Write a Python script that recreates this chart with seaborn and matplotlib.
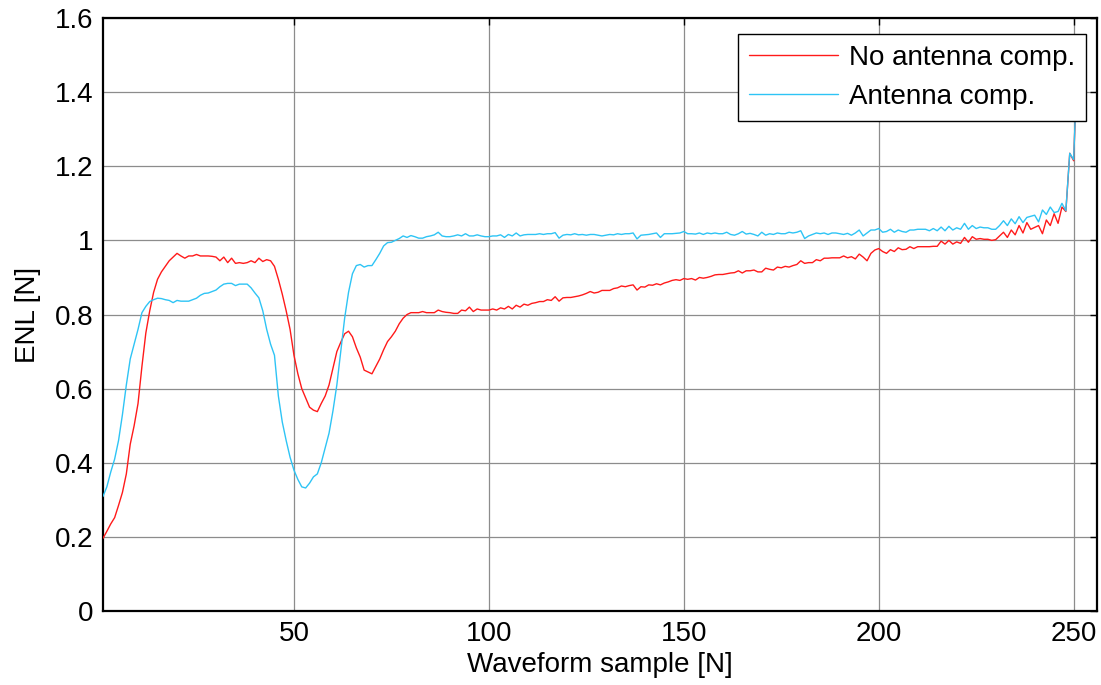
import numpy as np
import pandas as pd
import seaborn as sns
import matplotlib.pyplot as plt
from matplotlib.ticker import FormatStrFormatter

# ENL per waveform sample (samples 1..251)
no_comp = [
    0.196, 0.215, 0.235, 0.252, 0.285, 0.32, 0.37, 0.45, 0.50, 0.56,
    0.66, 0.75, 0.81, 0.86, 0.895, 0.915, 0.93, 0.945, 0.955, 0.965,
    0.958, 0.952, 0.958, 0.958, 0.962, 0.958, 0.958, 0.958, 0.957, 0.955,
    0.945, 0.955, 0.94, 0.952, 0.938, 0.94, 0.938, 0.94, 0.945, 0.94,
    0.952, 0.943, 0.948, 0.945, 0.93, 0.895, 0.855, 0.81, 0.76, 0.69,
    0.64, 0.60, 0.575, 0.55, 0.542, 0.538, 0.56, 0.58, 0.61, 0.655,
    0.70, 0.725, 0.748, 0.755, 0.74, 0.71, 0.685, 0.65, 0.645, 0.64,
    0.66, 0.68, 0.705, 0.727, 0.74, 0.755, 0.775, 0.79, 0.80, 0.805,
    0.805, 0.805, 0.808, 0.805, 0.805, 0.805, 0.812, 0.808, 0.806, 0.805,
    0.803, 0.803, 0.812, 0.810, 0.820, 0.808, 0.815, 0.812, 0.812, 0.812,
    0.815, 0.812, 0.818, 0.815, 0.822, 0.815, 0.825, 0.820, 0.828, 0.825,
    0.830, 0.832, 0.835, 0.835, 0.840, 0.838, 0.848, 0.836, 0.845, 0.846,
    0.846, 0.848, 0.850, 0.853, 0.857, 0.862, 0.858, 0.860, 0.865, 0.865,
    0.865, 0.870, 0.872, 0.877, 0.875, 0.878, 0.880, 0.866, 0.875, 0.874,
    0.880, 0.879, 0.883, 0.880, 0.885, 0.888, 0.892, 0.894, 0.892, 0.897,
    0.895, 0.897, 0.893, 0.900, 0.898, 0.900, 0.903, 0.907, 0.908, 0.908,
    0.910, 0.912, 0.913, 0.918, 0.912, 0.918, 0.918, 0.920, 0.915, 0.915,
    0.925, 0.922, 0.920, 0.928, 0.926, 0.930, 0.928, 0.932, 0.935, 0.945,
    0.938, 0.940, 0.940, 0.948, 0.945, 0.952, 0.952, 0.953, 0.953, 0.953,
    0.958, 0.953, 0.956, 0.950, 0.963, 0.955, 0.945, 0.965, 0.974, 0.978,
    0.970, 0.965, 0.975, 0.970, 0.980, 0.975, 0.976, 0.983, 0.978, 0.983,
    0.983, 0.983, 0.983, 0.984, 0.984, 0.998, 0.990, 1.000, 0.990, 0.996,
    0.992, 1.008, 0.995, 1.010, 1.003, 1.005, 1.003, 1.003, 1.000, 1.002,
    1.012, 1.022, 1.008, 1.028, 1.015, 1.040, 1.020, 1.048, 1.030, 1.035,
    1.040, 1.018, 1.055, 1.040, 1.072, 1.046, 1.090, 1.078, 1.235, 1.215,
    1.50,
]

ant_comp = [
    0.309, 0.335, 0.375, 0.41, 0.46, 0.53, 0.61, 0.68, 0.72, 0.76,
    0.805, 0.822, 0.835, 0.84, 0.844, 0.843, 0.84, 0.838, 0.832, 0.838,
    0.836, 0.836, 0.836, 0.84, 0.844, 0.852, 0.857, 0.858, 0.862, 0.866,
    0.875, 0.882, 0.884, 0.884, 0.878, 0.882, 0.882, 0.882, 0.872, 0.858,
    0.845, 0.81, 0.76, 0.72, 0.69, 0.58, 0.51, 0.46, 0.415, 0.38,
    0.355, 0.335, 0.332, 0.345, 0.362, 0.37, 0.40, 0.44, 0.48, 0.54,
    0.61, 0.70, 0.79, 0.86, 0.91, 0.932, 0.935, 0.928, 0.932, 0.932,
    0.948, 0.965, 0.985, 0.994, 0.995, 1.000, 1.005, 1.012, 1.008, 1.013,
    1.010, 1.006, 1.006, 1.010, 1.012, 1.015, 1.022, 1.012, 1.010, 1.010,
    1.012, 1.015, 1.012, 1.018, 1.012, 1.012, 1.015, 1.012, 1.010, 1.010,
    1.012, 1.012, 1.015, 1.008, 1.016, 1.012, 1.020, 1.012, 1.015, 1.016,
    1.016, 1.016, 1.018, 1.016, 1.018, 1.018, 1.021, 1.006, 1.014, 1.016,
    1.015, 1.018, 1.015, 1.016, 1.014, 1.016, 1.016, 1.014, 1.012, 1.014,
    1.016, 1.015, 1.018, 1.016, 1.018, 1.018, 1.020, 1.004, 1.014, 1.015,
    1.016, 1.018, 1.020, 1.008, 1.018, 1.018, 1.018, 1.019, 1.020, 1.024,
    1.018, 1.018, 1.017, 1.020, 1.016, 1.020, 1.018, 1.020, 1.018, 1.018,
    1.022, 1.016, 1.014, 1.018, 1.024, 1.017, 1.019, 1.016, 1.012, 1.022,
    1.014, 1.018, 1.016, 1.020, 1.018, 1.018, 1.022, 1.020, 1.022, 1.026,
    1.005, 1.012, 1.016, 1.020, 1.018, 1.020, 1.016, 1.020, 1.020, 1.018,
    1.016, 1.019, 1.014, 1.020, 1.028, 1.012, 1.020, 1.028, 1.028, 1.032,
    1.022, 1.024, 1.030, 1.022, 1.028, 1.024, 1.022, 1.028, 1.028, 1.030,
    1.030, 1.030, 1.026, 1.032, 1.026, 1.036, 1.026, 1.038, 1.028, 1.034,
    1.030, 1.046, 1.030, 1.040, 1.032, 1.036, 1.034, 1.034, 1.030, 1.030,
    1.040, 1.053, 1.040, 1.058, 1.045, 1.064, 1.048, 1.062, 1.065, 1.068,
    1.050, 1.082, 1.070, 1.090, 1.075, 1.078, 1.100, 1.080, 1.235, 1.218,
    1.50,
]

series_names = ["No antenna comp.", "Antenna comp."]
series_colors = ["#FF1A1A", "#2EC4F5"]
x_ticks = [50, 100, 150, 200, 250]
y_ticks = [0, 0.2, 0.4, 0.6, 0.8, 1.0, 1.2, 1.4, 1.6]

samples = np.arange(1, len(no_comp) + 1)
df = pd.DataFrame({
    "sample": np.concatenate([samples, samples]),
    "enl": no_comp + ant_comp,
    "series": [series_names[0]] * len(no_comp) + [series_names[1]] * len(ant_comp),
})

sns.set_style("white")
plt.rcParams["font.family"] = ["Liberation Sans", "DejaVu Sans"]
plt.rcParams["text.color"] = "black"
plt.rcParams["axes.labelcolor"] = "black"
plt.rcParams["xtick.color"] = "black"
plt.rcParams["ytick.color"] = "black"

fs = 20

fig = plt.figure(figsize=(11.01, 6.85), dpi=100)
ax = fig.add_axes([0.0935, 0.108, 0.9029, 0.8657])

sns.lineplot(data=df, x="sample", y="enl", hue="series",
             palette=dict(zip(series_names, series_colors)),
             linewidth=1.0, ax=ax, zorder=3)

ax.set_xlim(1, 256)
ax.set_ylim(0, 1.6)
ax.set_xticks(x_ticks)
ax.set_yticks(y_ticks)
ax.yaxis.set_major_formatter(FormatStrFormatter("%g"))
ax.grid(True, color="#8c8c8c", linewidth=0.9, zorder=0)
ax.tick_params(axis="both", direction="in", length=5, width=1, labelsize=fs,
               top=True, right=True, colors="black", pad=7)
for side in ax.spines.values():
    side.set_color("black")
    side.set_linewidth(1.6)

ax.set_xlabel("Waveform sample [N]", fontsize=fs, labelpad=4)
ax.set_ylabel("ENL [N]", fontsize=fs, labelpad=10)

leg = ax.legend(loc="upper right", bbox_to_anchor=(0.989, 0.973),
                borderaxespad=0, fontsize=fs, frameon=True, fancybox=False,
                edgecolor="black", framealpha=1, handlelength=3.2,
                handletextpad=0.4, labelspacing=0.45, borderpad=0.4)
leg.get_frame().set_linewidth(1.0)
leg.set_zorder(5)

fig.savefig("out.png", dpi=100)
